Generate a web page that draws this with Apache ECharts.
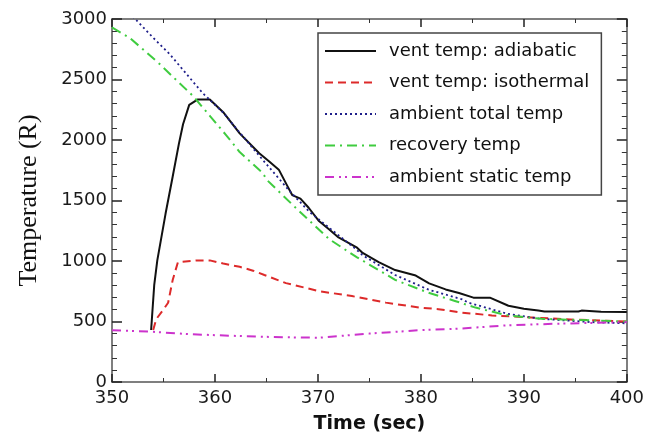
<!DOCTYPE html>
<html>
<head>
<meta charset="utf-8">
<script src="https://cdn.jsdelivr.net/npm/echarts@6/dist/echarts.min.js"></script>
<style>
  html, body { margin: 0; padding: 0; background: #fff; }
  #chart { width: 647px; height: 439px; }
</style>
</head>
<body>
<div id="chart"></div>
<script>
// Temperature histories, [time (sec), temperature (R)]
const ventAdiabatic = [
  [353.8, 430], [354.1, 800], [354.4, 1005], [355.2, 1390], [355.9, 1700],
  [356.5, 1970], [356.9, 2130], [357.5, 2290], [358.3, 2334], [359.5, 2334],
  [360.8, 2230], [362.4, 2055], [364.3, 1890], [365.3, 1820], [366.2, 1755],
  [367.0, 1625], [367.5, 1545], [368.3, 1515], [369.1, 1440], [370.1, 1330],
  [371.1, 1260], [372.0, 1195], [373.8, 1110], [374.3, 1070], [375.9, 990],
  [377.5, 925], [379.5, 880], [380.8, 815], [382.4, 765], [383.7, 735],
  [385.1, 697], [386.7, 697], [388.5, 630], [390.0, 605], [391.4, 590],
  [392.0, 582], [395.3, 582], [395.6, 590], [397.5, 580], [400.0, 578]
];
const ventIsothermal = [
  [354.0, 430], [354.3, 520], [355.0, 600], [355.45, 655], [355.9, 845],
  [356.4, 990], [358.2, 1005], [359.5, 1005], [360.8, 979], [362.4, 952],
  [363.7, 920], [364.8, 884], [366.9, 817], [370.1, 751], [373.3, 710],
  [376.6, 656], [379.8, 616], [381.7, 602], [383.7, 576], [386.9, 550],
  [390.1, 536], [395.0, 515], [400.0, 500]
];
const ambientTotal = [
  [350.0, 3200], [352.2, 3005], [354.0, 2845], [355.6, 2710], [357.2, 2549],
  [358.8, 2388], [360.8, 2227], [362.1, 2092], [364.6, 1840], [366.25, 1677],
  [367.2, 1583], [369.15, 1408], [371.1, 1274], [373.8, 1090], [374.3, 1050],
  [377.5, 884], [380.75, 763], [384.0, 683], [384.6, 656], [388.5, 562],
  [391.7, 522], [396.5, 495], [400.0, 485]
];
const recovery = [
  [350.0, 2930], [351.7, 2845], [353.0, 2750], [354.6, 2630], [356.25, 2495],
  [357.9, 2361], [359.5, 2200], [361.1, 2039], [362.4, 1900], [364.6, 1730],
  [365.1, 1665], [367.9, 1435], [371.1, 1180], [373.8, 1030], [374.3, 1005],
  [377.5, 844], [380.75, 737], [383.3, 670], [385.3, 615], [388.5, 549],
  [391.7, 522], [396.5, 509], [400.0, 500]
];
const ambientStatic = [
  [350.0, 428], [354.0, 415], [357.5, 395], [364.0, 375], [368.0, 368],
  [370.1, 366], [375.0, 400], [379.8, 428], [383.7, 441], [388.5, 469],
  [393.3, 482], [400.0, 495]
];

const seriesNames = [
  'vent temp: adiabatic',
  'vent temp: isothermal',
  'ambient total temp',
  'recovery temp',
  'ambient static temp'
];
const timeTicks = { min: 350, max: 400, step: 10 };
const tempTicks = { min: 0, max: 3000, step: 500 };

const tickFont = { fontFamily: 'DejaVu Sans', fontSize: 18, color: '#1a1a1a' };
const frameColor = '#555';

function xAxisDef(pos, labels) {
  return {
    type: 'value', position: pos,
    min: timeTicks.min, max: timeTicks.max, interval: timeTicks.step,
    axisLine: { show: true, onZero: false, lineStyle: { color: frameColor, width: 1.5 } },
    axisTick: { show: true, inside: true, length: 8, lineStyle: { color: '#222', width: 1.5 } },
    minorTick: { show: true, splitNumber: 2, length: 4, lineStyle: { color: '#333', width: 1 } },
    splitLine: { show: false },
    axisLabel: labels ? Object.assign({ margin: 7, formatter: v => String(v) }, tickFont) : { show: false },
    name: labels ? 'Time (sec)' : '',
    nameLocation: 'middle', nameGap: 33,
    nameTextStyle: { fontFamily: 'DejaVu Sans', fontSize: 19, color: '#111', fontWeight: 'bold' }
  };
}
function yAxisDef(pos, labels) {
  return {
    type: 'value', position: pos,
    min: tempTicks.min, max: tempTicks.max, interval: tempTicks.step,
    axisLine: { show: true, onZero: false, lineStyle: { color: frameColor, width: 1.5 } },
    axisTick: { show: true, inside: true, length: 10, lineStyle: { color: '#222', width: 1.5 } },
    minorTick: { show: true, splitNumber: 5, length: 5, lineStyle: { color: '#333', width: 1 } },
    splitLine: { show: false },
    axisLabel: labels ? Object.assign({ margin: 5, formatter: v => String(v) }, tickFont) : { show: false },
    name: labels ? 'Temperature (R)' : '',
    nameLocation: 'middle', nameGap: 70,
    nameTextStyle: { fontFamily: 'Liberation Serif', fontSize: 26, color: '#111' }
  };
}

function lineSeries(name, data, color, type, width) {
  return {
    name: name, type: 'line', data: data, xAxisIndex: 0, yAxisIndex: 0,
    symbol: 'none', smooth: false, clip: true, animation: false,
    lineStyle: { color: color, width: width, type: type },
    itemStyle: { color: color }
  };
}

const chart = echarts.init(document.getElementById('chart'), null, { renderer: 'canvas' });
chart.setOption({
  backgroundColor: '#fff',
  animation: false,
  grid: { left: 112, right: 18, top: 19, bottom: 47.5 },
  xAxis: [xAxisDef('bottom', true), xAxisDef('top', false)],
  yAxis: [yAxisDef('left', true), yAxisDef('right', false)],
  legend: {
    orient: 'vertical',
    left: 318, top: 33,
    backgroundColor: '#fff',
    borderColor: '#444', borderWidth: 1.5,
    padding: [8, 12, 8, 6],
    itemWidth: 51, itemHeight: 14, itemGap: 11.5,
    itemStyle: { color: 'transparent', borderColor: 'transparent', borderWidth: 0 },
    textStyle: { fontFamily: 'DejaVu Sans', fontSize: 18, color: '#111', padding: [0, 0, 0, 8], lineHeight: 20 },
    data: seriesNames
  },
  series: [
    lineSeries(seriesNames[0], ventAdiabatic, '#111111', 'solid', 2),
    lineSeries(seriesNames[1], ventIsothermal, '#dd2a2a', [8, 5], 2),
    lineSeries(seriesNames[2], ambientTotal, '#1f1f8a', [2, 3], 1.8),
    lineSeries(seriesNames[3], recovery, '#3fcc3f', [10, 5, 2, 5], 2),
    lineSeries(seriesNames[4], ambientStatic, '#cc33cc', [9, 5, 2, 4, 2, 5], 2)
  ]
});
</script>
</body>
</html>
